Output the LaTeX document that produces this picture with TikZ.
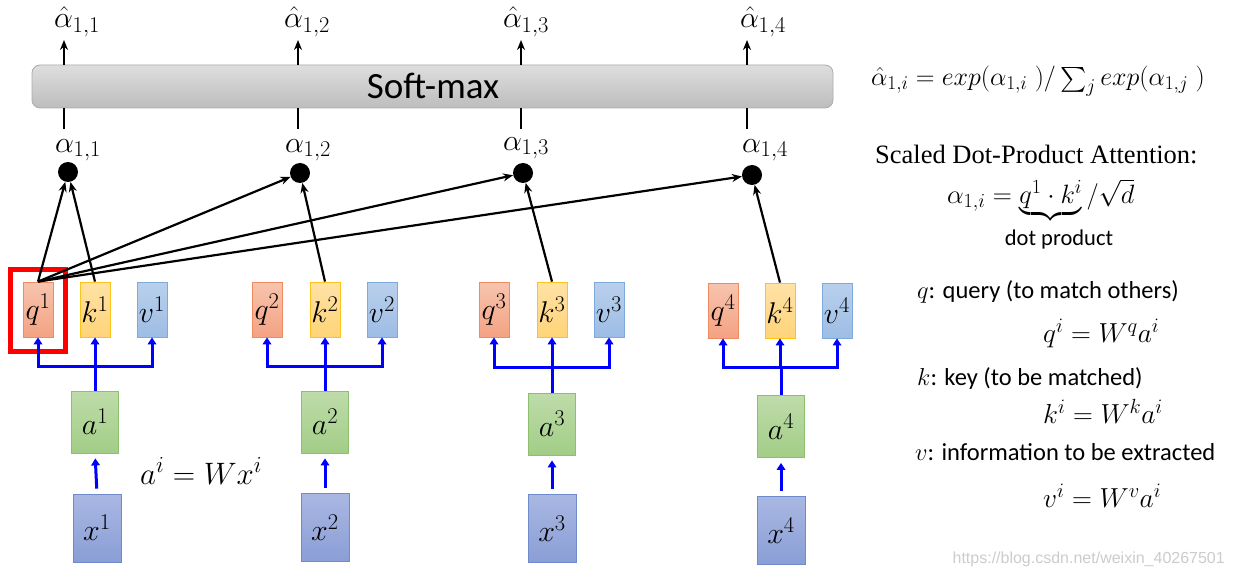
\RequirePackage{fix-cm}
\documentclass[tikz,border=0pt]{standalone}
\usepackage{amsmath}
\usepackage{fontspec}
\newfontfamily\calibri{Carlito}
\newfontfamily\timesf{Liberation Serif}
\newfontfamily\arialf{Liberation Sans}
\usetikzlibrary{arrows.meta,calc}
\newcommand\myfs[1]{\fontsize{#1}{#1}\selectfont}
\DeclareMathSizes{26}{26}{19.5}{14}
\DeclareMathSizes{26.5}{26.5}{20}{14.5}
\DeclareMathSizes{27.5}{27.5}{20.5}{15}
\DeclareMathSizes{30}{30}{22.5}{17}
\DeclareMathSizes{31}{31}{23}{17}
\definecolor{qtop}{HTML}{F7C4AE}\definecolor{qbot}{HTML}{F4A283}\definecolor{qbd}{HTML}{EE8B60}
\definecolor{ktop}{HTML}{FFE2A6}\definecolor{kbot}{HTML}{FFD478}\definecolor{kbd}{HTML}{FFC21A}
\definecolor{vtop}{HTML}{B9D0EC}\definecolor{vbot}{HTML}{9DBDE5}\definecolor{vbd}{HTML}{7EA9DA}
\definecolor{atop}{HTML}{BEDCAA}\definecolor{abot}{HTML}{A2CD86}\definecolor{abd}{HTML}{8CC06C}
\definecolor{xtop}{HTML}{A9B7E2}\definecolor{xbot}{HTML}{8A9ED6}\definecolor{xbd}{HTML}{6F8BCB}
\definecolor{smtop}{HTML}{DEDEDE}\definecolor{smbot}{HTML}{BDBDBD}\definecolor{smbd}{HTML}{ABABAB}
\begin{document}
\begin{tikzpicture}[x=1pt,y=-1pt,
  bx/.style={draw, line width=0.8pt, inner sep=0pt, minimum width=30pt, minimum height=55pt, font=\myfs{30}},
  qb/.style={bx, draw=qbd, top color=qtop, bottom color=qbot},
  kb/.style={bx, draw=kbd, top color=ktop, bottom color=kbot},
  vb/.style={bx, draw=vbd, top color=vtop, bottom color=vbot},
  ab/.style={bx, draw=abd, top color=atop, bottom color=abot, minimum width=47pt, minimum height=62pt},
  xb/.style={bx, draw=xbd, top color=xtop, bottom color=xbot, minimum width=48pt, minimum height=68pt},
  dotn/.style={circle, fill=black, minimum size=20pt, inner sep=0pt},
  bk/.style={line width=2.2pt, -{Stealth[length=10pt,width=8pt]}},
  bkl/.style={line width=2.2pt},
  bl/.style={blue, line width=3pt},
  blA/.style={bl, -{Triangle[length=7pt,width=8.5pt]}},
  mlab/.style={inner sep=0pt, font=\myfs{30}},
  rtext/.style={inner sep=0pt, anchor=base west, font=\calibri\myfs{24.5}},
  rmath/.style={inner sep=0pt, anchor=base west, font=\myfs{27.5}}
]
\useasboundingbox (0,0) rectangle (1233,577);
\fill[white] (0,0) rectangle (1233,577);

% red highlight
\draw[red, line width=5pt] (10.5,269.5) rectangle (65.5,351.5);

% q k v boxes
\node[qb] (q1) at (38,309.5) {$q^1$};
\node[kb] (k1) at (95,309.5) {$k^1$};
\node[vb] (v1) at (152,309.5) {$v^1$};
\node[qb] (q2) at (267,309.5) {$q^2$};
\node[kb] (k2) at (325,309.5) {$k^2$};
\node[vb] (v2) at (382,309.5) {$v^2$};
\node[qb] (q3) at (494,309.5) {$q^3$};
\node[kb] (k3) at (552,309.5) {$k^3$};
\node[vb] (v3) at (609,309.5) {$v^3$};
\node[qb] (q4) at (723,310.5) {$q^4$};
\node[kb] (k4) at (780,310.5) {$k^4$};
\node[vb] (v4) at (837,310.5) {$v^4$};

% a boxes
\node[ab] (a1) at (95,422) {$a^1$};
\node[ab] (a2) at (325,422) {$a^2$};
\node[ab] (a3) at (552,424) {$a^3$};
\node[ab] (a4) at (781,426.5) {$a^4$};

% x boxes
\node[xb] (x1) at (97,528) {$x^1$};
\node[xb] (x2) at (325,527.5) {$x^2$};
\node[xb] (x3) at (552,528.5) {$x^3$};
\node[xb] (x4) at (781,530.5) {$x^4$};

% bus coordinates
\coordinate (bus1) at (95,366);
\coordinate (bus2) at (325,366);
\coordinate (bus3) at (552,367);
\coordinate (bus4) at (781,367);

\foreach \i in {1,2,3,4}{
  \draw[bl, line cap=rect] (q\i.south |- bus\i) -- (v\i.south |- bus\i);
  \draw[bl] (a\i.north) -- (a\i.north |- bus\i);
  \draw[blA] (q\i.south |- bus\i) -- (q\i.south);
  \draw[blA] (k\i.south |- bus\i) -- (k\i.south);
  \draw[blA] (v\i.south |- bus\i) -- (v\i.south);
  \draw[blA, shorten <=5pt, shorten >=5pt] (x\i.north) -- (a\i.south);
}

\node[inner sep=0pt, anchor=base west, font=\myfs{31}] (aeq) at (140,484) {$a^i = Wx^i$};

% softmax bar
\node[draw=smbd, line width=0.8pt, rounded corners=8pt, top color=smtop, bottom color=smbot,
      minimum width=801pt, minimum height=43pt, inner sep=0pt] (sm) at (432.5,86.5) {};
\node[inner sep=0pt, anchor=base, font=\calibri\myfs{37}] (smt) at (433,99) {Soft-max};

% output arrows and labels
\coordinate (h1) at (64,40);  \coordinate (h2) at (298,40);
\coordinate (h3) at (521,40); \coordinate (h4) at (747,40);
\coordinate (l1) at (64,129);  \coordinate (l2) at (298,129);
\coordinate (l3) at (521,129); \coordinate (l4) at (747,129);
\foreach \i in {1,2,3,4}{
  \draw[bk] (sm.north -| h\i) -- (h\i);
  \draw[bkl] (sm.south -| l\i) -- (l\i);
}
\node[mlab] (ah1) at (77,22) {$\hat\alpha_{1,1}$};
\node[mlab] (ah2) at (307,22) {$\hat\alpha_{1,2}$};
\node[mlab] (ah3) at (526,22) {$\hat\alpha_{1,3}$};
\node[mlab] (ah4) at (763,22) {$\hat\alpha_{1,4}$};
\node[mlab] (al1) at (78,150) {$\alpha_{1,1}$};
\node[mlab] (al2) at (308,150) {$\alpha_{1,2}$};
\node[mlab] (al3) at (526,148) {$\alpha_{1,3}$};
\node[mlab] (al4) at (765,150) {$\alpha_{1,4}$};

% dots
\node[dotn] (d1) at (68,172) {};
\node[dotn] (d2) at (300,173) {};
\node[dotn] (d3) at (523,173) {};
\node[dotn] (d4) at (752,175) {};

% attention arrows
\draw[bk] (q1.north) -- (d1);
\draw[bk] (k1.north) -- (d1);
\draw[bk] (q1.north) -- (d2);
\draw[bk] (q1.north) -- (d3);
\draw[bk] (q1.north) -- (d4);
\draw[bk] (k2.north) -- (d2);
\draw[bk] (k3.north) -- (d3);
\draw[bk] (k4.north) -- (d4);

% right side
\node[inner sep=0pt, anchor=base west, font=\myfs{26}] (f1) at (871,86) {$\hat\alpha_{1,i} = exp(\alpha_{1,i}\;)/\sum\nolimits_j exp(\alpha_{1,j}\;)$};
\node[inner sep=0pt, anchor=base west, font=\timesf\myfs{26.5}] (sdp) at (875,164) {Scaled Dot-Product Attention:};
\node[inner sep=0pt, anchor=base west, font=\myfs{26.5}] (f2) at (947,204) {$\alpha_{1,i} = \underbrace{q^1\cdot k^i}_{}/\sqrt{d}$};
\node[inner sep=0pt, anchor=base, font=\calibri\myfs{22.5}] (dp) at (1059,245) {dot product};

\node[rtext] (tq) at (917,298) {$q$: query (to match others)};
\node[rmath] (eq) at (1043,342) {$q^i = W^q a^i$};
\node[rtext] (tk) at (917,385) {$k$: key (to be matched)};
\node[rmath] (ek) at (1043,423) {$k^i = W^k a^i$};
\node[rtext] (tv) at (915,460) {$v$: information to be extracted};
\node[rmath] (ev) at (1043,507) {$v^i = W^v a^i$};

\node[inner sep=0pt, anchor=base east, font=\arialf\myfs{16}, text=black!20] (wm) at (1225,563) {https://blog.csdn.net/weixin\_40267501};
\end{tikzpicture}
\end{document}
